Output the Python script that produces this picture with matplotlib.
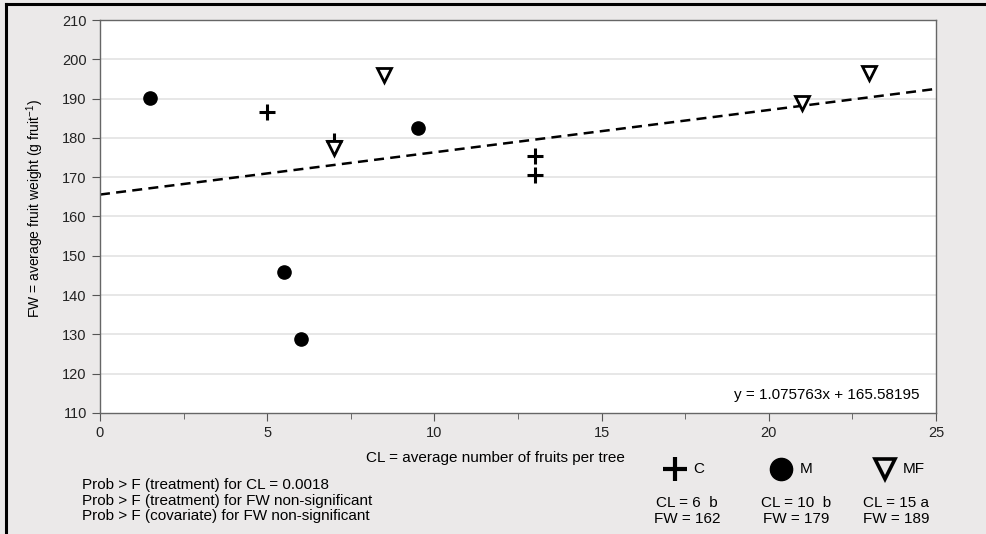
import matplotlib
matplotlib.use("Agg")
import matplotlib.pyplot as plt
import numpy as np
from matplotlib.lines import Line2D

plt.rcParams["font.family"] = ["Liberation Sans", "DejaVu Sans"]
plt.rcParams["mathtext.default"] = "regular"

# data: CL (fruits per tree) vs FW (g per fruit)
c_cl = [5, 7, 13, 13]
c_fw = [186.5, 179.3, 175.5, 170.5]
m_cl = [1.5, 5.5, 6, 9.5]
m_fw = [190.2, 145.8, 128.9, 182.5]
mf_cl = [7, 8.5, 21, 23]
mf_fw = [177.4, 196.0, 188.9, 196.5]

slope = 1.075763
intercept = 165.58195

groups = ["C", "M", "MF"]
group_cl = ["CL = 6  b", "CL = 10  b", "CL = 15 a"]
group_fw = ["FW = 162", "FW = 179", "FW = 189"]

footnotes = [
    "Prob > F (treatment) for CL = 0.0018",
    "Prob > F (treatment) for FW non-significant",
    "Prob > F (covariate) for FW non-significant",
]

bg = "#ebe9e9"
W, H = 987, 534
fs = 11
fig = plt.figure(figsize=(W / 100, H / 100), dpi=100, facecolor=bg)


def fx(px):
    return px / W


def fy(py):
    return 1 - py / H


ax = fig.add_axes([fx(100), fy(413), fx(936) - fx(100), fy(20) - fy(413)])
ax.set_facecolor("white")
ax.set_xlim(0, 25)
ax.set_ylim(110, 210)
ax.set_xticks(np.arange(0, 26, 5))
ax.set_xticks(np.arange(2.5, 25, 5), minor=True)
ax.set_yticks(np.arange(110, 211, 10))
ax.tick_params(axis="both", which="both", direction="out", colors="#555555",
               labelcolor="#222222", labelsize=10.5)
ax.tick_params(axis="both", which="major", length=6)
ax.tick_params(axis="x", which="minor", length=4)
for s in ax.spines.values():
    s.set_color("#666666")
    s.set_linewidth(1.0)
for yv in np.arange(120, 201, 10):
    ax.axhline(yv, color="#e3e3e3", lw=1.2, zorder=0)

xs = np.array([0, 25])
ax.plot(xs, slope * xs + intercept, ls=(0, (4, 2.5)), color="black", lw=1.8, zorder=2)

ax.plot(c_cl, c_fw, ls="none", marker="+", ms=12, mew=2.2, color="black", zorder=3)
ax.plot(m_cl, m_fw, ls="none", marker="o", ms=9.5, color="black", zorder=3)
ax.plot(mf_cl, mf_fw, ls="none", marker="v", ms=10, mfc="white", mec="black",
        mew=2.0, zorder=4)

ax.text(0.98, 0.045, "y = %.6fx + %.5f" % (slope, intercept), transform=ax.transAxes,
        ha="right", va="center", fontsize=fs)

fig.text(fx(35), fy(208), "FW = average fruit weight (g fruit$^{-1}$)", rotation=90,
         ha="center", va="center", fontsize=10)
fig.text(fx(495), fy(458), "CL = average number of fruits per tree", ha="center",
         va="center", fontsize=fs)

for i, t in enumerate(footnotes):
    fig.text(fx(82), fy(485 + 15.5 * i), t, ha="left", va="center", fontsize=fs)

# legend-like key at the bottom
marker_x = [675, 781, 885]
label_x = [693, 800, 903]
text_x = [687, 796, 896]
styles = [
    dict(marker="+", ms=17, mew=3.0, color="black"),
    dict(marker="o", ms=16, color="black"),
    dict(marker="v", ms=15, mfc="none", mec="black", mew=2.6),
]
for i, g in enumerate(groups):
    fig.add_artist(Line2D([fx(marker_x[i])], [fy(469)], ls="none",
                          transform=fig.transFigure, **styles[i]))
    fig.text(fx(label_x[i]), fy(469), g, ha="left", va="center", fontsize=fs)
    fig.text(fx(text_x[i]), fy(503), group_cl[i], ha="center", va="center", fontsize=fs)
    fig.text(fx(text_x[i]), fy(519), group_fw[i], ha="center", va="center", fontsize=fs)

# frame lines at top and left of the figure
fig.add_artist(Line2D([fx(6), 1], [fy(4), fy(4)], color="black", lw=2.2,
                      transform=fig.transFigure))
fig.add_artist(Line2D([fx(6), fx(6)], [0, fy(4)], color="black", lw=2.2,
                      transform=fig.transFigure))

fig.savefig("out.png", dpi=100, facecolor=bg)
